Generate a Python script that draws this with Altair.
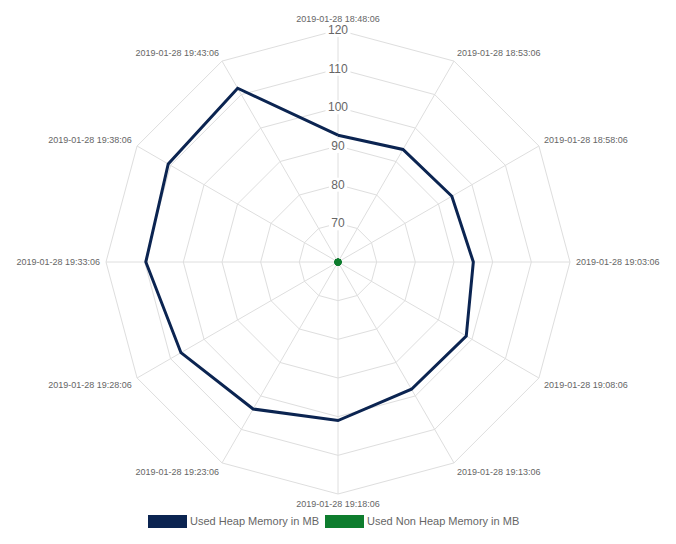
import altair as alt
import pandas as pd

# ---------------- data ----------------
times = [
    "2019-01-28 18:48:06", "2019-01-28 18:53:06", "2019-01-28 18:58:06",
    "2019-01-28 19:03:06", "2019-01-28 19:08:06", "2019-01-28 19:13:06",
    "2019-01-28 19:18:06", "2019-01-28 19:23:06", "2019-01-28 19:28:06",
    "2019-01-28 19:33:06", "2019-01-28 19:38:06", "2019-01-28 19:43:06",
]
heap = [92.8, 93.6, 94.0, 95.0, 98.3, 98.0, 101.0, 103.9, 106.9, 109.7, 110.7, 111.9]
nonheap = [54.2, 54.3, 54.3, 54.4, 54.5, 54.5, 54.6, 54.6, 54.7, 54.7, 54.8, 54.8]
ticks = [70, 80, 90, 100, 110, 120]
series_names = ["Used Heap Memory in MB", "Used Non Heap Memory in MB"]
series_colors = ["#0b2451", "#0e7d2e"]

R_MIN, R_MAX = 60, 120
R_PX = 232          # pixel radius of the outer ring
LABEL_R = 238       # pixel radius of the point labels
W, H = 660, 528
X_DOM = [-330, 330]
Y_DOM = [-274, 254]
N = len(times)

FONT = "Liberation Sans"
GRID = "#dedede"

# ---------------- tables ----------------
heap_df = pd.DataFrame({
    "k": list(range(N)) + [N],
    "value": heap + [heap[0]],
    "series": series_names[0],
})
nonheap_df = pd.DataFrame({
    "k": list(range(N)),
    "value": nonheap,
    "series": series_names[1],
})
grid_df = pd.DataFrame(
    [{"level": t, "k": k} for t in ticks for k in range(N + 1)]
)
spoke_df = pd.DataFrame({"k": list(range(N)), "level": R_MAX})
tick_df = pd.DataFrame({"level": ticks, "label": [str(t) for t in ticks]})
label_df = pd.DataFrame({"k": list(range(N)), "label": times})

xs = alt.Scale(domain=X_DOM, nice=False, zero=False)
ys = alt.Scale(domain=Y_DOM, nice=False, zero=False)


def X(f):
    return alt.X(f"{f}:Q", scale=xs, axis=None)


def Y(f):
    return alt.Y(f"{f}:Q", scale=ys, axis=None)


ANG = f"2*PI*datum.k/{N}"
R_EXPR = f"max(datum.value-{R_MIN},0)/{R_MAX - R_MIN}*{R_PX}"
RL_EXPR = f"(datum.level-{R_MIN})/{R_MAX - R_MIN}*{R_PX}"

# grid rings
rings = alt.Chart(grid_df).transform_calculate(
    r=RL_EXPR
).transform_calculate(
    x=f"datum.r*sin({ANG})", y=f"datum.r*cos({ANG})"
).mark_line(color=GRID, strokeWidth=1).encode(
    x=X("x"), y=Y("y"), detail="level:N", order="k:Q"
)

# spokes
spokes = alt.Chart(spoke_df).transform_calculate(
    r=RL_EXPR
).transform_calculate(
    x=f"datum.r*sin({ANG})", y=f"datum.r*cos({ANG})", x0="0", y0="0"
).mark_rule(color=GRID, strokeWidth=1).encode(
    x=X("x"), y=Y("y"), x2="x0:Q", y2="y0:Q"
)

# heap line
heap_line = alt.Chart(heap_df).transform_calculate(
    r=R_EXPR
).transform_calculate(
    x=f"datum.r*sin({ANG})", y=f"datum.r*cos({ANG})"
).mark_line(strokeWidth=3, strokeJoin="miter", color=series_colors[0]).encode(
    x=X("x"), y=Y("y"), order="k:Q",
)

# non heap points (all at centre) -- carries the legend
nonheap_pts = alt.Chart(nonheap_df).transform_calculate(
    r=R_EXPR
).transform_calculate(
    x=f"datum.r*sin({ANG})", y=f"datum.r*cos({ANG})"
).mark_point(filled=True, size=45, opacity=1, shape="circle").encode(
    x=X("x"), y=Y("y"),
    color=alt.Color(
        "series:N",
        scale=alt.Scale(domain=series_names, range=series_colors),
        legend=alt.Legend(
            title=None, orient="none", direction="horizontal",
            legendX=140, legendY=494,
            symbolType="M-1,-0.333L1,-0.333L1,0.333L-1,0.333Z",
            symbolSize=1521, symbolStrokeWidth=0, symbolOpacity=1,
            labelFont=FONT, labelFontSize=11, labelColor="#666666",
            labelOffset=3, columnPadding=6, padding=0,
        ),
    ),
)

# tick label backdrops and labels
tick_back = alt.Chart(tick_df).transform_calculate(
    yc=RL_EXPR
).transform_calculate(
    hw="length(datum.label)*3.5+2",
).transform_calculate(
    x1="-datum.hw", x2="datum.hw", y1="datum.yc-7", y2="datum.yc+7"
).mark_rect(color="white").encode(
    x=X("x1"), x2="x2:Q", y=Y("y1"), y2="y2:Q"
)
tick_text = alt.Chart(tick_df).transform_calculate(
    yc=RL_EXPR, x0="0"
).mark_text(font=FONT, fontSize=12, color="#666666", baseline="middle",
            align="center").encode(
    x=X("x0"), y=Y("yc"), text="label:N"
)

# point labels
label_groups = [
    ([0], "center", "bottom", 0),
    ([1, 2], "left", "bottom", 2),
    ([3], "left", "middle", 0),
    ([4, 5], "left", "top", 0),
    ([6], "center", "top", 0),
    ([7, 8], "right", "top", 0),
    ([9], "right", "middle", 0),
    ([10, 11], "right", "bottom", 2),
]
label_layers = []
for ks, al, bl, dy in label_groups:
    label_layers.append(
        alt.Chart(label_df).transform_filter(
            alt.FieldOneOfPredicate(field="k", oneOf=ks)
        ).transform_calculate(
            x=f"{LABEL_R}*sin({ANG})", y=f"{LABEL_R}*cos({ANG})"
        ).mark_text(font=FONT, fontSize=9, color="#666666", align=al,
                    baseline=bl, dy=dy).encode(
            x=X("x"), y=Y("y"), text="label:N"
        )
    )

chart = alt.layer(
    rings, spokes, tick_back, tick_text, *label_layers, heap_line, nonheap_pts
).properties(
    width=W, height=H,
    autosize=alt.AutoSizeParams(type="none"),
    padding=0,
).configure_view(strokeWidth=0)

chart.save("out.html", embed_options={"renderer": "svg", "actions": False})
